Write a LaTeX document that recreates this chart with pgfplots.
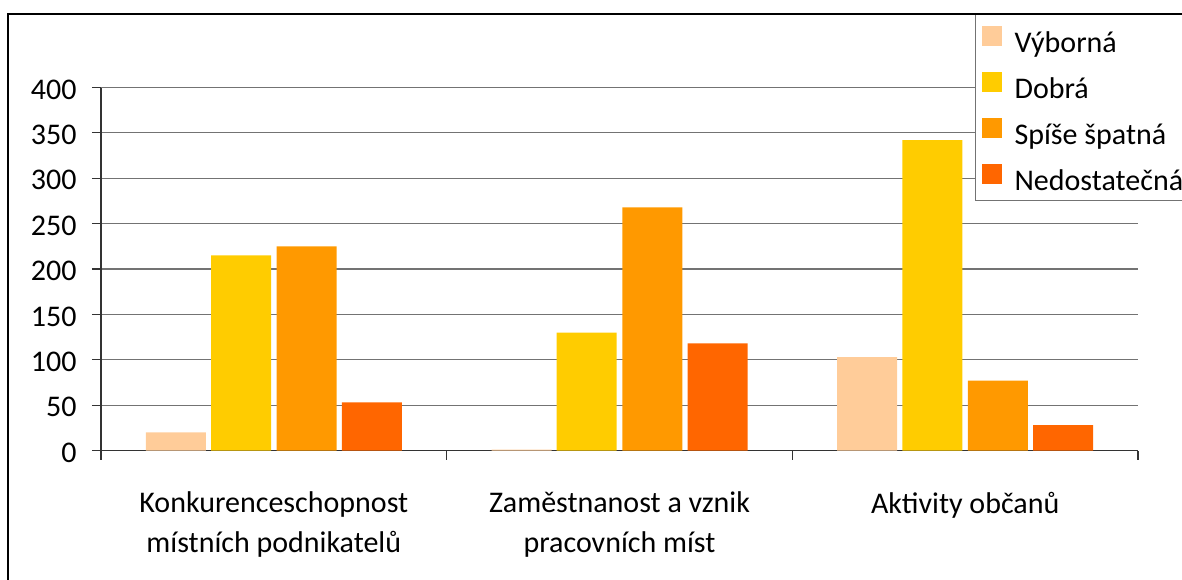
\documentclass[border=0pt]{standalone}
\usepackage{pgfplots}
\pgfplotsset{compat=1.18}
\usepackage{fontspec}
\setmainfont{Carlito}
\definecolor{cV}{HTML}{FFCC99}
\definecolor{cD}{HTML}{FFCC00}
\definecolor{cS}{HTML}{FF9900}
\definecolor{cN}{HTML}{FF6600}
\begin{document}
\fontsize{15}{19.7}\selectfont
\begin{tikzpicture}
\useasboundingbox (0,0) rectangle (591pt,289.5pt);
\clip (0,0) rectangle (591pt,289.5pt);
\begin{axis}[
  at={(50.5pt,64.25pt)}, anchor=south west,
  width=518.5pt, height=181.5pt, scale only axis,
  xmin=-0.5, xmax=2.5, ymin=0, ymax=400,
  axis x line=bottom, axis y line=left,
  axis line style={-, black!80, line width=0.6pt},
  ytick={0,50,...,400},
  ymajorgrids, grid style={black!55, line width=0.6pt},
  tick align=outside, major tick length=4.5pt,
  tick style={black!80, line width=0.6pt},
  xtick={-0.5,0.5,1.5,2.5}, xticklabels={},
  extra x ticks={0,1,2},
  extra x tick labels={Konkurenceschopnost\\místních podnikatelů, Zaměstnanost a vznik\\pracovních míst, Aktivity občanů},
  extra x tick style={tick style={draw=none}},
  xticklabel style={align=center, font=\fontsize{15}{19.7}\selectfont, anchor=north, yshift=-11pt},
  yticklabel style={font=\fontsize{15}{19.7}\selectfont, xshift=-2.5pt, yshift=-1pt},
  /pgf/number format/assume math mode=true,
  legend style={at={(axis description cs:0.8428,1.2025)}, anchor=north west,
    draw=black!55, line width=0.6pt, fill=white, inner xsep=3pt, inner ysep=0.5pt,
    font=\fontsize{15}{19.7}\selectfont,
    nodes={text height=14.5pt, text depth=0.5pt, inner ysep=4pt},
    /tikz/every odd column/.append style={column sep=4.5pt}},
  legend cell align=left,
  legend image code/.code={\fill[#1] (0pt,-3.5pt) rectangle (10pt,6.5pt);},
  clip=false,
]
\addplot[ybar, bar width=30pt, bar shift=-49pt, fill=cV, draw=none] coordinates {(0,20) (1,1) (2,103)};
\addplot[ybar, bar width=30pt, bar shift=-16.4pt, fill=cD, draw=none] coordinates {(0,215) (1,130) (2,342)};
\addplot[ybar, bar width=30pt, bar shift=16.4pt, fill=cS, draw=none] coordinates {(0,225) (1,268) (2,77)};
\addplot[ybar, bar width=30pt, bar shift=49pt, fill=cN, draw=none] coordinates {(0,53) (1,118) (2,28)};
\legend{Výborná, Dobrá, Spíše špatná, Nedostatečná}
\end{axis}
\draw[line width=1pt] (3.75pt,-10pt) rectangle (600pt,282.5pt);
\end{tikzpicture}
\end{document}
